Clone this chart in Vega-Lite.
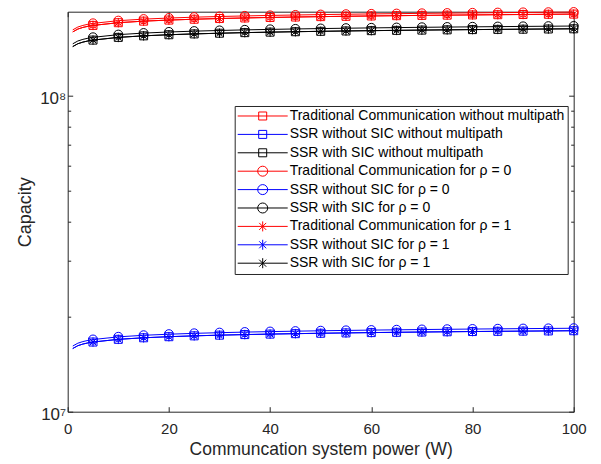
{
"$schema":"https://vega.github.io/schema/vega-lite/v6.json",
"width":506,"height":400,
"autosize":{"type":"none"},
"padding":{"left":67.7,"top":11.7,"right":27,"bottom":52},
"background":"white",
"config":{"view":{"stroke":null},"font":"Liberation Sans",
 "axis":{"grid":false,"domainColor":"#262626","tickColor":"#262626","labelColor":"#262626","titleColor":"#262626","labelFont":"Liberation Sans","titleFont":"Liberation Sans","labelFontSize":15,"titleFontSize":17.5,"titleFontWeight":"normal","domainWidth":1,"tickWidth":1}},
"data":{"values":[
{"s":"Traditional Communication without multipath","P":1,"C":1.5925e8},{"s":"Traditional Communication without multipath","P":2,"C":1.6257e8},{"s":"Traditional Communication without multipath","P":3,"C":1.6451e8},{"s":"Traditional Communication without multipath","P":4,"C":1.6589e8},{"s":"Traditional Communication without multipath","P":5,"C":1.6696e8},{"s":"Traditional Communication without multipath","P":10,"C":1.7028e8},{"s":"Traditional Communication without multipath","P":15,"C":1.7222e8},{"s":"Traditional Communication without multipath","P":20,"C":1.7359e8},{"s":"Traditional Communication without multipath","P":25,"C":1.7466e8},{"s":"Traditional Communication without multipath","P":30,"C":1.7553e8},{"s":"Traditional Communication without multipath","P":35,"C":1.7628e8},{"s":"Traditional Communication without multipath","P":40,"C":1.7691e8},{"s":"Traditional Communication without multipath","P":45,"C":1.7747e8},{"s":"Traditional Communication without multipath","P":50,"C":1.7798e8},{"s":"Traditional Communication without multipath","P":55,"C":1.7844e8},{"s":"Traditional Communication without multipath","P":60,"C":1.7885e8},{"s":"Traditional Communication without multipath","P":65,"C":1.7923e8},{"s":"Traditional Communication without multipath","P":70,"C":1.7960e8},{"s":"Traditional Communication without multipath","P":75,"C":1.7992e8},{"s":"Traditional Communication without multipath","P":80,"C":1.8023e8},{"s":"Traditional Communication without multipath","P":85,"C":1.8052e8},{"s":"Traditional Communication without multipath","P":90,"C":1.8079e8},{"s":"Traditional Communication without multipath","P":95,"C":1.8105e8},{"s":"Traditional Communication without multipath","P":100,"C":1.8130e8},
{"s":"SSR without SIC without multipath","P":1,"C":1.5846e7},{"s":"SSR without SIC without multipath","P":2,"C":1.6176e7},{"s":"SSR without SIC without multipath","P":3,"C":1.6370e7},{"s":"SSR without SIC without multipath","P":4,"C":1.6507e7},{"s":"SSR without SIC without multipath","P":5,"C":1.6613e7},{"s":"SSR without SIC without multipath","P":10,"C":1.6943e7},{"s":"SSR without SIC without multipath","P":15,"C":1.7136e7},{"s":"SSR without SIC without multipath","P":20,"C":1.7273e7},{"s":"SSR without SIC without multipath","P":25,"C":1.7380e7},{"s":"SSR without SIC without multipath","P":30,"C":1.7466e7},{"s":"SSR without SIC without multipath","P":35,"C":1.7540e7},{"s":"SSR without SIC without multipath","P":40,"C":1.7603e7},{"s":"SSR without SIC without multipath","P":45,"C":1.7659e7},{"s":"SSR without SIC without multipath","P":50,"C":1.7710e7},{"s":"SSR without SIC without multipath","P":55,"C":1.7755e7},{"s":"SSR without SIC without multipath","P":60,"C":1.7796e7},{"s":"SSR without SIC without multipath","P":65,"C":1.7834e7},{"s":"SSR without SIC without multipath","P":70,"C":1.7870e7},{"s":"SSR without SIC without multipath","P":75,"C":1.7903e7},{"s":"SSR without SIC without multipath","P":80,"C":1.7934e7},{"s":"SSR without SIC without multipath","P":85,"C":1.7962e7},{"s":"SSR without SIC without multipath","P":90,"C":1.7990e7},{"s":"SSR without SIC without multipath","P":95,"C":1.8015e7},{"s":"SSR without SIC without multipath","P":100,"C":1.8040e7},
{"s":"SSR with SIC without multipath","P":1,"C":1.4309e8},{"s":"SSR with SIC without multipath","P":2,"C":1.4607e8},{"s":"SSR with SIC without multipath","P":3,"C":1.4782e8},{"s":"SSR with SIC without multipath","P":4,"C":1.4905e8},{"s":"SSR with SIC without multipath","P":5,"C":1.5001e8},{"s":"SSR with SIC without multipath","P":10,"C":1.5300e8},{"s":"SSR with SIC without multipath","P":15,"C":1.5474e8},{"s":"SSR with SIC without multipath","P":20,"C":1.5598e8},{"s":"SSR with SIC without multipath","P":25,"C":1.5694e8},{"s":"SSR with SIC without multipath","P":30,"C":1.5772e8},{"s":"SSR with SIC without multipath","P":35,"C":1.5839e8},{"s":"SSR with SIC without multipath","P":40,"C":1.5896e8},{"s":"SSR with SIC without multipath","P":45,"C":1.5946e8},{"s":"SSR with SIC without multipath","P":50,"C":1.5992e8},{"s":"SSR with SIC without multipath","P":55,"C":1.6033e8},{"s":"SSR with SIC without multipath","P":60,"C":1.6070e8},{"s":"SSR with SIC without multipath","P":65,"C":1.6104e8},{"s":"SSR with SIC without multipath","P":70,"C":1.6137e8},{"s":"SSR with SIC without multipath","P":75,"C":1.6166e8},{"s":"SSR with SIC without multipath","P":80,"C":1.6194e8},{"s":"SSR with SIC without multipath","P":85,"C":1.6220e8},{"s":"SSR with SIC without multipath","P":90,"C":1.6244e8},{"s":"SSR with SIC without multipath","P":95,"C":1.6267e8},{"s":"SSR with SIC without multipath","P":100,"C":1.6290e8},
{"s":"Traditional Communication for ρ = 0","P":1,"C":1.6163e8},{"s":"Traditional Communication for ρ = 0","P":2,"C":1.6499e8},{"s":"Traditional Communication for ρ = 0","P":3,"C":1.6696e8},{"s":"Traditional Communication for ρ = 0","P":4,"C":1.6836e8},{"s":"Traditional Communication for ρ = 0","P":5,"C":1.6945e8},{"s":"Traditional Communication for ρ = 0","P":10,"C":1.7281e8},{"s":"Traditional Communication for ρ = 0","P":15,"C":1.7478e8},{"s":"Traditional Communication for ρ = 0","P":20,"C":1.7618e8},{"s":"Traditional Communication for ρ = 0","P":25,"C":1.7727e8},{"s":"Traditional Communication for ρ = 0","P":30,"C":1.7815e8},{"s":"Traditional Communication for ρ = 0","P":35,"C":1.7890e8},{"s":"Traditional Communication for ρ = 0","P":40,"C":1.7955e8},{"s":"Traditional Communication for ρ = 0","P":45,"C":1.8012e8},{"s":"Traditional Communication for ρ = 0","P":50,"C":1.8063e8},{"s":"Traditional Communication for ρ = 0","P":55,"C":1.8109e8},{"s":"Traditional Communication for ρ = 0","P":60,"C":1.8152e8},{"s":"Traditional Communication for ρ = 0","P":65,"C":1.8190e8},{"s":"Traditional Communication for ρ = 0","P":70,"C":1.8227e8},{"s":"Traditional Communication for ρ = 0","P":75,"C":1.8260e8},{"s":"Traditional Communication for ρ = 0","P":80,"C":1.8291e8},{"s":"Traditional Communication for ρ = 0","P":85,"C":1.8321e8},{"s":"Traditional Communication for ρ = 0","P":90,"C":1.8348e8},{"s":"Traditional Communication for ρ = 0","P":95,"C":1.8374e8},{"s":"Traditional Communication for ρ = 0","P":100,"C":1.8400e8},
{"s":"SSR without SIC for ρ = 0","P":1,"C":1.6136e7},{"s":"SSR without SIC for ρ = 0","P":2,"C":1.6472e7},{"s":"SSR without SIC for ρ = 0","P":3,"C":1.6669e7},{"s":"SSR without SIC for ρ = 0","P":4,"C":1.6809e7},{"s":"SSR without SIC for ρ = 0","P":5,"C":1.6917e7},{"s":"SSR without SIC for ρ = 0","P":10,"C":1.7253e7},{"s":"SSR without SIC for ρ = 0","P":15,"C":1.7450e7},{"s":"SSR without SIC for ρ = 0","P":20,"C":1.7589e7},{"s":"SSR without SIC for ρ = 0","P":25,"C":1.7698e7},{"s":"SSR without SIC for ρ = 0","P":30,"C":1.7786e7},{"s":"SSR without SIC for ρ = 0","P":35,"C":1.7861e7},{"s":"SSR without SIC for ρ = 0","P":40,"C":1.7925e7},{"s":"SSR without SIC for ρ = 0","P":45,"C":1.7982e7},{"s":"SSR without SIC for ρ = 0","P":50,"C":1.8034e7},{"s":"SSR without SIC for ρ = 0","P":55,"C":1.8080e7},{"s":"SSR without SIC for ρ = 0","P":60,"C":1.8122e7},{"s":"SSR without SIC for ρ = 0","P":65,"C":1.8161e7},{"s":"SSR without SIC for ρ = 0","P":70,"C":1.8197e7},{"s":"SSR without SIC for ρ = 0","P":75,"C":1.8231e7},{"s":"SSR without SIC for ρ = 0","P":80,"C":1.8262e7},{"s":"SSR without SIC for ρ = 0","P":85,"C":1.8291e7},{"s":"SSR without SIC for ρ = 0","P":90,"C":1.8319e7},{"s":"SSR without SIC for ρ = 0","P":95,"C":1.8344e7},{"s":"SSR without SIC for ρ = 0","P":100,"C":1.8370e7},
{"s":"SSR with SIC for ρ = 0","P":1,"C":1.4599e8},{"s":"SSR with SIC for ρ = 0","P":2,"C":1.4903e8},{"s":"SSR with SIC for ρ = 0","P":3,"C":1.5081e8},{"s":"SSR with SIC for ρ = 0","P":4,"C":1.5207e8},{"s":"SSR with SIC for ρ = 0","P":5,"C":1.5305e8},{"s":"SSR with SIC for ρ = 0","P":10,"C":1.5609e8},{"s":"SSR with SIC for ρ = 0","P":15,"C":1.5787e8},{"s":"SSR with SIC for ρ = 0","P":20,"C":1.5914e8},{"s":"SSR with SIC for ρ = 0","P":25,"C":1.6012e8},{"s":"SSR with SIC for ρ = 0","P":30,"C":1.6091e8},{"s":"SSR with SIC for ρ = 0","P":35,"C":1.6160e8},{"s":"SSR with SIC for ρ = 0","P":40,"C":1.6218e8},{"s":"SSR with SIC for ρ = 0","P":45,"C":1.6269e8},{"s":"SSR with SIC for ρ = 0","P":50,"C":1.6316e8},{"s":"SSR with SIC for ρ = 0","P":55,"C":1.6357e8},{"s":"SSR with SIC for ρ = 0","P":60,"C":1.6396e8},{"s":"SSR with SIC for ρ = 0","P":65,"C":1.6431e8},{"s":"SSR with SIC for ρ = 0","P":70,"C":1.6464e8},{"s":"SSR with SIC for ρ = 0","P":75,"C":1.6494e8},{"s":"SSR with SIC for ρ = 0","P":80,"C":1.6522e8},{"s":"SSR with SIC for ρ = 0","P":85,"C":1.6549e8},{"s":"SSR with SIC for ρ = 0","P":90,"C":1.6573e8},{"s":"SSR with SIC for ρ = 0","P":95,"C":1.6597e8},{"s":"SSR with SIC for ρ = 0","P":100,"C":1.6620e8},
{"s":"Traditional Communication for ρ = 1","P":1,"C":1.5925e8},{"s":"Traditional Communication for ρ = 1","P":2,"C":1.6257e8},{"s":"Traditional Communication for ρ = 1","P":3,"C":1.6451e8},{"s":"Traditional Communication for ρ = 1","P":4,"C":1.6589e8},{"s":"Traditional Communication for ρ = 1","P":5,"C":1.6696e8},{"s":"Traditional Communication for ρ = 1","P":10,"C":1.7028e8},{"s":"Traditional Communication for ρ = 1","P":15,"C":1.7222e8},{"s":"Traditional Communication for ρ = 1","P":20,"C":1.7359e8},{"s":"Traditional Communication for ρ = 1","P":25,"C":1.7466e8},{"s":"Traditional Communication for ρ = 1","P":30,"C":1.7553e8},{"s":"Traditional Communication for ρ = 1","P":35,"C":1.7628e8},{"s":"Traditional Communication for ρ = 1","P":40,"C":1.7691e8},{"s":"Traditional Communication for ρ = 1","P":45,"C":1.7747e8},{"s":"Traditional Communication for ρ = 1","P":50,"C":1.7798e8},{"s":"Traditional Communication for ρ = 1","P":55,"C":1.7844e8},{"s":"Traditional Communication for ρ = 1","P":60,"C":1.7885e8},{"s":"Traditional Communication for ρ = 1","P":65,"C":1.7923e8},{"s":"Traditional Communication for ρ = 1","P":70,"C":1.7960e8},{"s":"Traditional Communication for ρ = 1","P":75,"C":1.7992e8},{"s":"Traditional Communication for ρ = 1","P":80,"C":1.8023e8},{"s":"Traditional Communication for ρ = 1","P":85,"C":1.8052e8},{"s":"Traditional Communication for ρ = 1","P":90,"C":1.8079e8},{"s":"Traditional Communication for ρ = 1","P":95,"C":1.8105e8},{"s":"Traditional Communication for ρ = 1","P":100,"C":1.8130e8},
{"s":"SSR without SIC for ρ = 1","P":1,"C":1.5846e7},{"s":"SSR without SIC for ρ = 1","P":2,"C":1.6176e7},{"s":"SSR without SIC for ρ = 1","P":3,"C":1.6370e7},{"s":"SSR without SIC for ρ = 1","P":4,"C":1.6507e7},{"s":"SSR without SIC for ρ = 1","P":5,"C":1.6613e7},{"s":"SSR without SIC for ρ = 1","P":10,"C":1.6943e7},{"s":"SSR without SIC for ρ = 1","P":15,"C":1.7136e7},{"s":"SSR without SIC for ρ = 1","P":20,"C":1.7273e7},{"s":"SSR without SIC for ρ = 1","P":25,"C":1.7380e7},{"s":"SSR without SIC for ρ = 1","P":30,"C":1.7466e7},{"s":"SSR without SIC for ρ = 1","P":35,"C":1.7540e7},{"s":"SSR without SIC for ρ = 1","P":40,"C":1.7603e7},{"s":"SSR without SIC for ρ = 1","P":45,"C":1.7659e7},{"s":"SSR without SIC for ρ = 1","P":50,"C":1.7710e7},{"s":"SSR without SIC for ρ = 1","P":55,"C":1.7755e7},{"s":"SSR without SIC for ρ = 1","P":60,"C":1.7796e7},{"s":"SSR without SIC for ρ = 1","P":65,"C":1.7834e7},{"s":"SSR without SIC for ρ = 1","P":70,"C":1.7870e7},{"s":"SSR without SIC for ρ = 1","P":75,"C":1.7903e7},{"s":"SSR without SIC for ρ = 1","P":80,"C":1.7934e7},{"s":"SSR without SIC for ρ = 1","P":85,"C":1.7962e7},{"s":"SSR without SIC for ρ = 1","P":90,"C":1.7990e7},{"s":"SSR without SIC for ρ = 1","P":95,"C":1.8015e7},{"s":"SSR without SIC for ρ = 1","P":100,"C":1.8040e7},
{"s":"SSR with SIC for ρ = 1","P":1,"C":1.4309e8},{"s":"SSR with SIC for ρ = 1","P":2,"C":1.4607e8},{"s":"SSR with SIC for ρ = 1","P":3,"C":1.4782e8},{"s":"SSR with SIC for ρ = 1","P":4,"C":1.4905e8},{"s":"SSR with SIC for ρ = 1","P":5,"C":1.5001e8},{"s":"SSR with SIC for ρ = 1","P":10,"C":1.5300e8},{"s":"SSR with SIC for ρ = 1","P":15,"C":1.5474e8},{"s":"SSR with SIC for ρ = 1","P":20,"C":1.5598e8},{"s":"SSR with SIC for ρ = 1","P":25,"C":1.5694e8},{"s":"SSR with SIC for ρ = 1","P":30,"C":1.5772e8},{"s":"SSR with SIC for ρ = 1","P":35,"C":1.5839e8},{"s":"SSR with SIC for ρ = 1","P":40,"C":1.5896e8},{"s":"SSR with SIC for ρ = 1","P":45,"C":1.5946e8},{"s":"SSR with SIC for ρ = 1","P":50,"C":1.5992e8},{"s":"SSR with SIC for ρ = 1","P":55,"C":1.6033e8},{"s":"SSR with SIC for ρ = 1","P":60,"C":1.6070e8},{"s":"SSR with SIC for ρ = 1","P":65,"C":1.6104e8},{"s":"SSR with SIC for ρ = 1","P":70,"C":1.6137e8},{"s":"SSR with SIC for ρ = 1","P":75,"C":1.6166e8},{"s":"SSR with SIC for ρ = 1","P":80,"C":1.6194e8},{"s":"SSR with SIC for ρ = 1","P":85,"C":1.6220e8},{"s":"SSR with SIC for ρ = 1","P":90,"C":1.6244e8},{"s":"SSR with SIC for ρ = 1","P":95,"C":1.6267e8},{"s":"SSR with SIC for ρ = 1","P":100,"C":1.6290e8}
]},
"layer":[
{"mark":{"type":"line","strokeWidth":1},
 "encoding":{
  "x":{"field":"P","type":"quantitative","scale":{"domain":[0,100],"nice":false},
   "axis":{"orient":"bottom","values":[0,20,40,60,80,100],"tickSize":-5,"labelPadding":22,"labelBaseline":"middle","labelFlush":false,"title":"Communcation system power (W)","titleX":253,"titleY":38.3,"titleBaseline":"middle","titleAnchor":"middle","titleAlign":"center"}},
  "y":{"field":"C","type":"quantitative","scale":{"type":"log","domain":[10000000,184500000],"nice":false},
   "axis":{"orient":"left","values":[10000000,20000000,30000000,40000000,50000000,60000000,70000000,80000000,90000000,100000000],
    "labelExpr":"datum.value == 10000000 ? '10⁷' : (datum.value == 100000000 ? '10⁸' : '')",
    "tickSize":{"condition":{"test":"datum.value == 10000000 || datum.value == 100000000","value":-5},"value":-3},
    "labelPadding":7,"labelOffset":3,"labelFontSize":17,
    "title":"Capacity","titleX":-42,"titleY":200,"titleAngle":-90,"titleBaseline":"middle","titleAlign":"center","titleAnchor":"middle","titleFontSize":18}},
  "color":{"field":"s","type":"nominal","scale":{"domain":["Traditional Communication without multipath","Traditional Communication for ρ = 0","Traditional Communication for ρ = 1","SSR without SIC without multipath","SSR without SIC for ρ = 0","SSR without SIC for ρ = 1","SSR with SIC without multipath","SSR with SIC for ρ = 0","SSR with SIC for ρ = 1"],"range":["#ff0000","#ff0000","#ff0000","#0000ff","#0000ff","#0000ff","#000000","#000000","#000000"]},"legend":null}
 }},
{"transform":[{"filter":"indexof(datum.s,'multipath') >= 0 && datum.P % 5 == 0"}],
 "mark":{"type":"point","shape":"square","size":64,"filled":false,"strokeWidth":1,"opacity":1},
 "encoding":{
  "x":{"field":"P","type":"quantitative","scale":{"domain":[0,100],"nice":false},"axis":null},
  "y":{"field":"C","type":"quantitative","scale":{"type":"log","domain":[10000000,184500000],"nice":false},"axis":null},
  "color":{"field":"s","type":"nominal","legend":null}}},
{"transform":[{"filter":"indexof(datum.s,'ρ = 0') >= 0 && datum.P % 5 == 0"}],
 "mark":{"type":"point","shape":"circle","size":82,"filled":false,"strokeWidth":1,"opacity":1},
 "encoding":{
  "x":{"field":"P","type":"quantitative","scale":{"domain":[0,100],"nice":false},"axis":null},
  "y":{"field":"C","type":"quantitative","scale":{"type":"log","domain":[10000000,184500000],"nice":false},"axis":null},
  "color":{"field":"s","type":"nominal","legend":null}}},
{"transform":[{"filter":"indexof(datum.s,'ρ = 1') >= 0 && datum.P % 5 == 0"}],
 "mark":{"type":"point","shape":"M0,-1V1M-1,0H1M-0.7,-0.7L0.7,0.7M-0.7,0.7L0.7,-0.7","size":90,"filled":false,"strokeWidth":1,"opacity":1},
 "encoding":{
  "x":{"field":"P","type":"quantitative","scale":{"domain":[0,100],"nice":false},"axis":null},
  "y":{"field":"C","type":"quantitative","scale":{"type":"log","domain":[10000000,184500000],"nice":false},"axis":null},
  "color":{"field":"s","type":"nominal","legend":null}}},
{"transform":[{"filter":"datum.P == 100"}],
 "mark":{"type":"point","filled":false,"size":0,"strokeWidth":0},
 "encoding":{
  "x":{"field":"P","type":"quantitative","scale":{"domain":[0,100],"nice":false},"axis":null},
  "y":{"field":"C","type":"quantitative","scale":{"type":"log","domain":[10000000,184500000],"nice":false},"axis":null},
  "stroke":{"field":"s","type":"nominal",
   "scale":{"domain":["Traditional Communication without multipath","SSR without SIC without multipath","SSR with SIC without multipath","Traditional Communication for ρ = 0","SSR without SIC for ρ = 0","SSR with SIC for ρ = 0","Traditional Communication for ρ = 1","SSR without SIC for ρ = 1","SSR with SIC for ρ = 1"],
    "range":["#ff0000","#0000ff","#000000","#ff0000","#0000ff","#000000","#ff0000","#0000ff","#000000"]},
   "legend":{"orient":"none","legendX":167,"legendY":94.3,"title":null,"padding":3,"rowPadding":4.4,
    "labelFont":"Liberation Sans","labelFontSize":14,"labelColor":"#000000","labelLimit":600,"labelBaseline":"middle",
    "symbolSize":100,"symbolStrokeWidth":1,"symbolOpacity":1,"symbolOffset":18,"labelOffset":20,
    "strokeColor":"#262626","fillColor":"#ffffff",
    "encode":{"symbols":{"update":{"fill":{"value":"transparent"},"size":{"value":100},"strokeWidth":{"value":1},"opacity":{"value":1}}}}}},
  "shape":{"field":"s","type":"nominal",
   "scale":{"domain":["Traditional Communication without multipath","SSR without SIC without multipath","SSR with SIC without multipath","Traditional Communication for ρ = 0","SSR without SIC for ρ = 0","SSR with SIC for ρ = 0","Traditional Communication for ρ = 1","SSR without SIC for ρ = 1","SSR with SIC for ρ = 1"],
    "range":["M-5,0H5M-0.8,-0.8H0.8V0.8H-0.8Z","M-5,0H5M-0.8,-0.8H0.8V0.8H-0.8Z","M-5,0H5M-0.8,-0.8H0.8V0.8H-0.8Z","M-5,0H5M-1,0A1,1,0,1,1,1,0A1,1,0,1,1,-1,0","M-5,0H5M-1,0A1,1,0,1,1,1,0A1,1,0,1,1,-1,0","M-5,0H5M-1,0A1,1,0,1,1,1,0A1,1,0,1,1,-1,0","M-5,0H5M0,-1V1M-0.7,-0.7L0.7,0.7M-0.7,0.7L0.7,-0.7","M-5,0H5M0,-1V1M-0.7,-0.7L0.7,0.7M-0.7,0.7L0.7,-0.7","M-5,0H5M0,-1V1M-0.7,-0.7L0.7,0.7M-0.7,0.7L0.7,-0.7"]},
   "legend":{"orient":"none","legendX":167,"legendY":94.3,"title":null,"padding":3,"rowPadding":4.4,
    "labelFont":"Liberation Sans","labelFontSize":14,"labelColor":"#000000","labelLimit":600,"labelBaseline":"middle",
    "symbolSize":100,"symbolStrokeWidth":1,"symbolOpacity":1,"symbolOffset":18,"labelOffset":20,
    "strokeColor":"#262626","fillColor":"#ffffff",
    "encode":{"symbols":{"update":{"fill":{"value":"transparent"},"size":{"value":100},"strokeWidth":{"value":1},"opacity":{"value":1}}}}}}
 }},
{"transform":[{"filter":"datum.P == 100"}],
 "mark":{"type":"point","size":0,"strokeWidth":0},
 "encoding":{
  "x":{"field":"P","type":"quantitative","scale":{"domain":[0,100],"nice":false},
   "axis":{"orient":"top","values":[0,20,40,60,80,100],"tickSize":-5,"labels":false,"title":null}},
  "y":{"field":"C","type":"quantitative","scale":{"type":"log","domain":[10000000,184500000],"nice":false},
   "axis":{"orient":"right","values":[10000000,20000000,30000000,40000000,50000000,60000000,70000000,80000000,90000000,100000000],"labels":false,"title":null,
    "tickSize":{"condition":{"test":"datum.value == 10000000 || datum.value == 100000000","value":-5},"value":-3}}}}}
],
"resolve":{"axis":{"x":"independent","y":"independent"}}
}
